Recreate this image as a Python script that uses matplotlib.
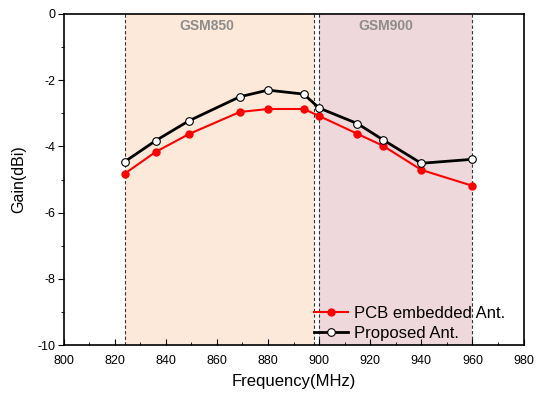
import matplotlib
matplotlib.use('Agg')
import matplotlib.pyplot as plt

plt.rcParams['font.family'] = ['Liberation Sans', 'DejaVu Sans']
plt.rcParams['axes.unicode_minus'] = False

freq = [824, 836, 849, 869, 880, 894, 900, 915, 925, 940, 960]
pcb_gain = [-4.82, -4.17, -3.63, -2.96, -2.87, -2.87, -3.08, -3.62, -3.98, -4.71, -5.19]
proposed_gain = [-4.46, -3.83, -3.23, -2.50, -2.30, -2.42, -2.84, -3.31, -3.80, -4.51, -4.39]

band_850 = (824, 898)
band_900 = (900, 960)

fig = plt.figure(figsize=(5.36, 4.0), dpi=100)
ax = fig.add_axes([0.1185, 0.1375, 0.8582, 0.8275])

ax.axvspan(*band_850, color='#fde9da', zorder=0, lw=0)
ax.axvspan(*band_900, color='#efd8db', zorder=0, lw=0)
for xv in (band_850[0], band_850[1], band_900[0], band_900[1]):
    ax.axvline(xv, color='#333333', ls=(0, (3, 2)), lw=0.8, zorder=1)

ax.text(856, -0.15, 'GSM850', color='#8c8c8c', fontsize=10,
        fontweight='bold', ha='center', va='top')
ax.text(926, -0.15, 'GSM900', color='#8c8c8c', fontsize=10,
        fontweight='bold', ha='center', va='top')

ax.plot(freq, pcb_gain, color='red', lw=1.5, marker='o', ms=5,
        mfc='red', mec='red', label='PCB embedded Ant.', zorder=3)
ax.plot(freq, proposed_gain, color='black', lw=2, marker='o', ms=5.5,
        mfc='white', mec='black', mew=0.8, label='Proposed Ant.', zorder=4)

ax.set_xlim(800, 980)
ax.set_ylim(-10, 0)
ax.set_xticks(range(800, 981, 20))
ax.set_xticks(range(810, 980, 20), minor=True)
ax.set_yticks(range(-10, 1, 2))
ax.set_yticks(range(-9, 0, 2), minor=True)
ax.tick_params(axis='x', direction='in', length=4, labelsize=9, pad=7)
ax.tick_params(axis='x', which='minor', direction='in', length=2.5)
ax.tick_params(axis='y', direction='out', length=4, labelsize=9, pad=2)
ax.tick_params(axis='y', which='minor', direction='out', length=2.5)
for s in ax.spines.values():
    s.set_linewidth(1.2)

ax.set_xlabel('Frequency(MHz)', fontsize=12, labelpad=5)
ax.set_ylabel('Gain(dBi)', fontsize=11.5, labelpad=8)

ax.legend(loc='lower right', bbox_to_anchor=(0.986, -0.024), frameon=False,
          fontsize=12, handlelength=2.0, handletextpad=0.4, borderpad=0.2,
          labelspacing=0.3)

plt.savefig('out.png')
